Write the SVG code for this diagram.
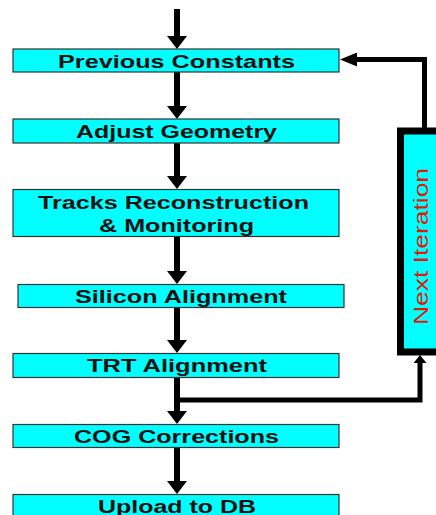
<svg xmlns="http://www.w3.org/2000/svg" width="436" height="515" viewBox="0 0 436 515">
  <style>
    .step { fill: #00ffff; stroke: #333333; stroke-width: 1.2; }
    .label { font-family: "Liberation Sans", Arial, sans-serif; font-weight: bold; font-size: 18px; fill: #111111; }
    .flow { fill: none; stroke: #000000; stroke-width: 6; }
    .loop { fill: none; stroke: #000000; stroke-width: 5; }
    .iter { fill: #00ffff; stroke: #000000; stroke-width: 7; }
    .iter-label { font-family: "Liberation Sans", Arial, sans-serif; font-size: 20px; fill: #e01a0a; }
  </style>
  <defs>
    <marker id="head" markerUnits="userSpaceOnUse" viewBox="0 0 13 20" refX="0" refY="10" markerWidth="13" markerHeight="20" orient="auto">
      <path d="M0,0 L13,10 L0,20 Z" fill="#000000"/>
    </marker>
    <marker id="head-small" markerUnits="userSpaceOnUse" viewBox="0 0 8 13" refX="0" refY="6.5" markerWidth="8" markerHeight="13" orient="auto">
      <path d="M0,0 L8,6.5 L0,13 Z" fill="#000000"/>
    </marker>
    <marker id="head-side" markerUnits="userSpaceOnUse" viewBox="0 0 17 14" refX="0" refY="7" markerWidth="17" markerHeight="14" orient="auto">
      <path d="M0,0 L17,7 L0,14 Z" fill="#000000"/>
    </marker>
  </defs>

  <g id="connectors">
    <path class="flow" d="M177,9 V36" marker-end="url(#head)"/>
    <path class="flow" d="M177,72 V106" marker-end="url(#head)"/>
    <path class="flow" d="M177,143 V176" marker-end="url(#head)"/>
    <path class="flow" d="M177,237 V271" marker-end="url(#head)"/>
    <path class="flow" d="M177,308 V340" marker-end="url(#head)"/>
    <path class="flow" d="M177,377 V411" marker-end="url(#head)"/>
    <path class="flow" d="M177,448 V481" marker-end="url(#head)"/>
    <!-- loop back: TRT output to the iteration box, then back to the constants -->
    <path class="loop" d="M177,400 H420 V363" marker-end="url(#head-small)"/>
    <path class="loop" d="M424.5,128 V59.5 H357" marker-end="url(#head-side)"/>
  </g>

  <g id="previous-constants">
    <rect class="step" x="13" y="49" width="326" height="23"/>
    <text class="label" x="58" y="68.3" textLength="237" lengthAdjust="spacingAndGlyphs">Previous Constants</text>
  </g>

  <g id="adjust-geometry">
    <rect class="step" x="13" y="119" width="326" height="24"/>
    <text class="label" x="76" y="137.7" textLength="201" lengthAdjust="spacingAndGlyphs">Adjust Geometry</text>
  </g>

  <g id="tracks-reconstruction">
    <rect class="step" x="13" y="189.5" width="326" height="47"/>
    <text class="label" x="38" y="209.3" textLength="271" lengthAdjust="spacingAndGlyphs">Tracks Reconstruction</text>
    <text class="label" x="99" y="231.5" textLength="155" lengthAdjust="spacingAndGlyphs">&amp; Monitoring</text>
  </g>

  <g id="silicon-alignment">
    <rect class="step" x="18" y="284.5" width="326" height="23"/>
    <text class="label" x="75" y="303.3" textLength="212" lengthAdjust="spacingAndGlyphs">Silicon Alignment</text>
  </g>

  <g id="trt-alignment">
    <rect class="step" x="13" y="353.5" width="326" height="24"/>
    <text class="label" x="87" y="372.3" textLength="180" lengthAdjust="spacingAndGlyphs">TRT Alignment</text>
  </g>

  <g id="cog-corrections">
    <rect class="step" x="13" y="424.5" width="326" height="23"/>
    <text class="label" x="74" y="442.7" textLength="205" lengthAdjust="spacingAndGlyphs">COG Corrections</text>
  </g>

  <g id="upload-to-db">
    <rect class="step" x="13" y="494.5" width="326" height="30"/>
    <text class="label" x="98" y="512.7" textLength="158" lengthAdjust="spacingAndGlyphs">Upload to DB</text>
  </g>

  <g id="next-iteration">
    <rect class="iter" x="400.5" y="131" width="60" height="221"/>
    <text class="iter-label" transform="translate(428,246.5) rotate(-90)" text-anchor="middle" textLength="157" lengthAdjust="spacingAndGlyphs">Next Iteration</text>
  </g>
</svg>
